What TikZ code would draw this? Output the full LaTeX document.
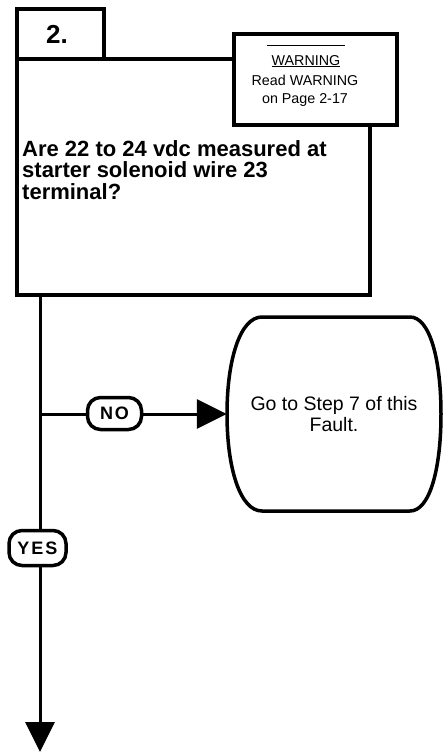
\documentclass[tikz,border=0pt]{standalone}
\usepackage{fontspec}
\setmainfont{Liberation Sans}
\usetikzlibrary{arrows.meta}
\tikzset{
  boxline/.style={draw=black, line width=3.5pt},
  conn/.style={draw=black, line width=3pt},
  pill/.style={draw=black, line width=3.5pt, fill=white, rounded corners=13pt, inner sep=0pt, font=\bfseries\fontsize{18}{18}\selectfont},
  bigtip/.style={-{Triangle[length=30pt,width=29pt]}},
}
\begin{document}
\begin{tikzpicture}[x=1pt,y=-1pt]
\useasboundingbox (0,0) rectangle (445,753);
% main box
\node[boxline, minimum width=353pt, minimum height=236pt, anchor=north west, inner sep=0pt] (main) at (15,57) {};
% tab
\node[boxline, fill=white, minimum width=87pt, minimum height=50pt, anchor=north west, inner sep=0pt] (tab) at (15,7) {};
\node[font=\bfseries\fontsize{26}{26}\selectfont, anchor=base, inner sep=0pt] (tabtxt) at (57,43) {2.};
% warning box
\node[boxline, fill=white, minimum width=163pt, minimum height=91pt, anchor=north west, inner sep=0pt] (warn) at (232,32) {};
\draw[line width=1pt] (267,45) -- (345,45);
\node[font=\fontsize{14.3}{19}\selectfont, anchor=base, inner sep=0pt] (w1) at (306,65) {\underline{WARNING}};
\node[font=\fontsize{14.3}{19}\selectfont, anchor=base, inner sep=0pt] (w2) at (305,85) {Read WARNING};
\node[font=\fontsize{14.3}{19}\selectfont, anchor=base, inner sep=0pt] (w3) at (305,103) {on Page 2-17};
% question
\node[font=\bfseries\fontsize{22}{21.5}\selectfont, anchor=north west, align=left, inner sep=0pt] (q) at (22,140) {Are 22 to 24 vdc measured at\\starter solenoid wire 23\\terminal?};
% terminal
\node[minimum width=214pt, minimum height=194pt, inner sep=0pt, align=center, font=\fontsize{19.5}{21}\selectfont] (term) at (334,414) {Go to Step 7 of this\\Fault.};
\draw[boxline] (262,317) -- (410,317) .. controls (430,317) and (441,360) .. (441,414)
  .. controls (441,468) and (430,511) .. (410,511) -- (262,511)
  .. controls (240,511) and (227,468) .. (227,414)
  .. controls (227,360) and (240,317) .. (262,317) -- cycle;
% connectors
\coordinate (branch) at (40,414);
\coordinate (bottom) at (40,752);
\coordinate (top) at (40,293);
\draw[conn, bigtip] (top) -- (bottom);
\draw[conn, bigtip] (branch) -- (term.west);
\node[pill, minimum width=54pt, minimum height=32pt] (no) at (114.5,413.5) {N\kern2ptO};
\node[pill, minimum width=57pt, minimum height=35pt] (yes) at (37.5,548) {Y\kern2ptE\kern2ptS};
\end{tikzpicture}
\end{document}
